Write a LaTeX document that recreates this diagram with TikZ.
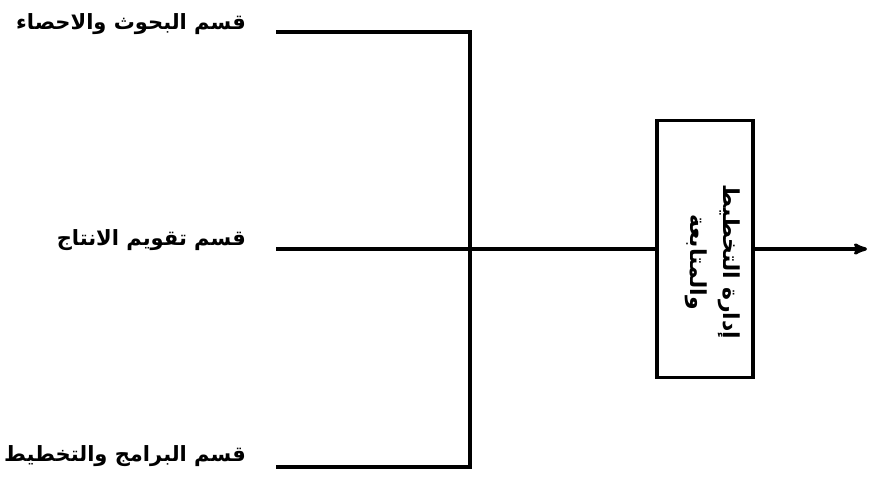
\documentclass[tikz,border=0pt]{standalone}
\usepackage{fontspec}
\usepackage{tikz}
\usetikzlibrary{arrows,positioning}
\TeXXeTstate=1
\newfontfamily\arabicfont[Script=Arabic]{DejaVu Sans}
\tikzset{
    %Define standard arrow tip
    >=stealth',
    %Define style for labels
    qism/.style={
           anchor=east,
           inner sep=0pt,
           font=\arabicfont\bfseries\fontsize{21}{24}\selectfont},
    %Define style for the box
    idara/.style={
           rectangle,
           draw=black, line width=3.2pt,
           minimum width=96pt,
           minimum height=257pt},
    idaratext/.style={
           inner sep=0pt,
           align=center,
           font=\arabicfont\bfseries\fontsize{22}{33}\selectfont},
    % Define line style
    khat/.style={
           draw=black,
           line width=3.2pt},
}
\begin{document}
\begin{tikzpicture}[x=1pt,y=-1pt]
\useasboundingbox (0,0) rectangle (870,487);
\node[qism](l1) at (246,24){\beginR قسم البحوث والاحصاء\endR};
\node[qism](l2) at (246,240){\beginR قسم تقويم الانتاج\endR};
\node[qism](l3) at (246,456){\beginR قسم البرامج والتخطيط\endR};
\coordinate (s1) at (276,32);
\coordinate (s2) at (276,249);
\coordinate (s3) at (276,467);
\coordinate (b1) at (470,32);
\coordinate (b3) at (470,467);
\node[idara](box) at (705,249){};
\node[idaratext](boxtext) at (714,262){\rotatebox{-90}{\begin{tabular}{@{}c@{}}\beginR إدارة التخطيط\endR\\\beginR والمتابعة\endR\end{tabular}}};
\coordinate (out) at (867,249);
\draw[khat] (s1) -- (b1) -- (b3) -- (s3);
\draw[khat] (s2) -- (box.west);
\draw[khat,->] (box.east) -- (out);
\end{tikzpicture}
\end{document}
